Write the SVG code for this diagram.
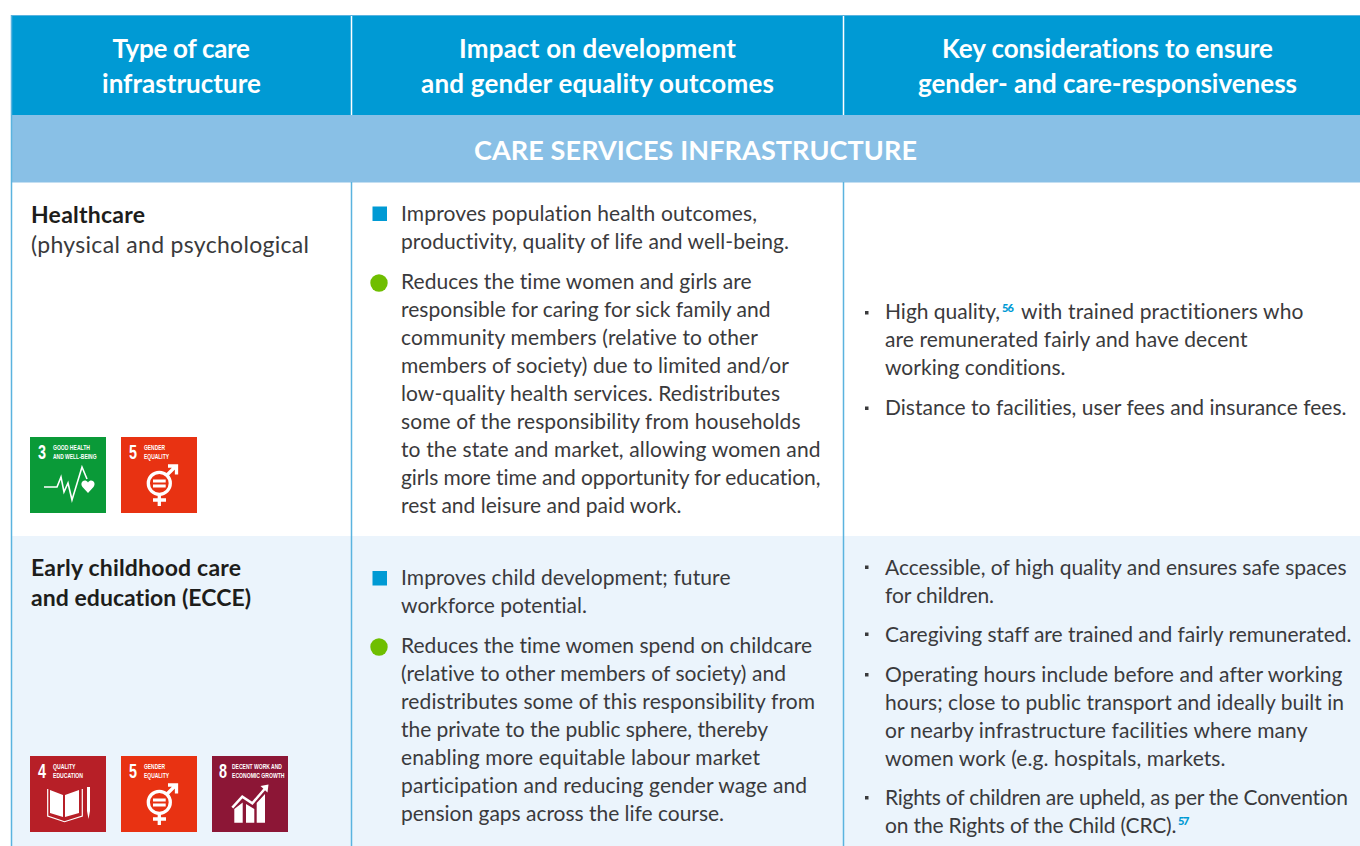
<svg xmlns="http://www.w3.org/2000/svg" width="1360" height="846" viewBox="0 0 1360 846">
<style>
text{font-family:"Lato","Noto Sans",sans-serif;font-variant-ligatures:none}
.h{font-size:26px;font-weight:700;fill:#fff}
.c{font-size:27px}
.b{font-size:21px;fill:#3a3a3c}
.a{font-size:23px;fill:#3a3a3c}
.t{font-size:23px;font-weight:700;fill:#1d1d1b}
.s{font-size:11px;font-weight:900;fill:#009ad4}
.l{stroke:#5ab3df;stroke-width:1.5;fill:none}
.w{stroke:#fff;stroke-width:1.5}
.sq{fill:#009ad4}.ci{fill:#6fbe00}.d{fill:#3a3a3c}
.g1{font-family:"Liberation Sans",sans-serif;font-weight:700;fill:#fff;font-size:8px}
.gn{font-family:"Liberation Sans",sans-serif;font-weight:700;fill:#fff;font-size:21px}
</style>
<defs>
<g id="sdg5"><rect width="76" height="76" fill="#e83212"/><text class="gn" x="8" y="22" textLength="8" lengthAdjust="spacingAndGlyphs">5</text><text class="g1" x="23" y="13" textLength="21" lengthAdjust="spacingAndGlyphs">GENDER</text><text class="g1" x="23" y="22" textLength="25" lengthAdjust="spacingAndGlyphs">EQUALITY</text>
<g fill="none" stroke="#fff" stroke-width="3.3"><circle cx="38.300" cy="46.300" r="11"/><path d="M38.300 58V69M32 63H45M46 38L55 29M47 29H55.500V37.500"/></g><path d="M32 42.500h12.700v3H32zM32 47.500h12.700v3H32z" fill="#fff"/></g>
</defs>
<rect width="1360" height="846" fill="#fff"/>
<g id="header"><rect x="11" y="15" width="1349" height="100" fill="#009ad4"/><path d="M11 15.500H1360" stroke="#5ab3df"/>
<path class="w" d="M351.500 16V115M843.500 16V115"/>
<text class="h" x="112.500" y="58" textLength="137.500">Type of care</text><text class="h" x="102" y="93" textLength="159">infrastructure</text>
<text class="h" x="459" y="58" textLength="277">Impact on development</text><text class="h" x="421" y="93" textLength="353">and gender equality outcomes</text>
<text class="h" x="942" y="58" textLength="331">Key considerations to ensure</text><text class="h" x="918" y="93" textLength="379">gender- and care-responsiveness</text></g>
<g id="band"><rect x="11" y="115" width="1349" height="67.500" fill="#89c0e6"/><text class="h c" x="474" y="160" textLength="443">CARE SERVICES INFRASTRUCTURE</text></g>
<g id="row2bg"><rect x="11" y="536" width="1349" height="310" fill="#ebf4fc"/></g>
<g id="connectors"><path class="l" d="M11.500 15V846M351.500 182V846M843.500 182V846"/></g>
<g id="healthcare">
<text class="t" x="31" y="223" textLength="114">Healthcare</text><text class="a" x="31" y="253" textLength="278">(physical and psychological</text>
<g transform="translate(30 437)"><rect width="76" height="76" fill="#0a9a38"/><text class="gn" x="8" y="22" textLength="8" lengthAdjust="spacingAndGlyphs">3</text><text class="g1" x="23" y="13" textLength="37" lengthAdjust="spacingAndGlyphs">GOOD HEALTH</text><text class="g1" x="23" y="22" textLength="43.500" lengthAdjust="spacingAndGlyphs">AND WELL-BEING</text><path d="M14 50H27L31 40L34 55L38 46L42 63L52 30L57 42" fill="none" stroke="#fff" stroke-width="1.6"/><path d="M58 56L52.500 50C49 45 55 41 58 45.500C61 41 67 45 63.500 50Z" fill="#fff"/></g>
<use href="#sdg5" x="121" y="437"/>
<rect class="sq" x="372.500" y="206.500" width="14.500" height="14.500"/>
<text class="b" x="401" y="221" textLength="356">Improves population health outcomes,</text><text class="b" x="401" y="249" textLength="388">productivity, quality of life and well-being.</text>
<circle class="ci" cx="379" cy="283" r="8.700"/>
<text class="b" x="401" y="289" textLength="350.500">Reduces the time women and girls are</text><text class="b" x="401" y="317" textLength="369.500">responsible for caring for sick family and</text><text class="b" x="401" y="345" textLength="357">community members (relative to other</text><text class="b" x="401" y="373" textLength="388">members of society) due to limited and/or</text><text class="b" x="401" y="401" textLength="379">low-quality health services. Redistributes</text><text class="b" x="401" y="429" textLength="399.500">some of the responsibility from households</text><text class="b" x="401" y="457" textLength="419.500">to the state and market, allowing women and</text><text class="b" x="401" y="485" textLength="419.500">girls more time and opportunity for education,</text><text class="b" x="401" y="513" textLength="280.500">rest and leisure and paid work.</text>
<rect class="d" x="865" y="311" width="3.500" height="3.500"/>
<text class="b" x="885" y="319" textLength="115">High quality,</text><text class="s" x="1002" y="312" textLength="12">56</text><text class="b" x="1021" y="319" textLength="282.500">with trained practitioners who</text><text class="b" x="885" y="347" textLength="362.500">are remunerated fairly and have decent</text><text class="b" x="885" y="375" textLength="180.500">working conditions.</text>
<rect class="d" x="865" y="406.500" width="3.500" height="3.500"/>
<text class="b" x="885" y="415" textLength="461.500">Distance to facilities, user fees and insurance fees.</text>
</g>
<g id="ecce">
<text class="t" x="31" y="576" textLength="210">Early childhood care</text><text class="t" x="31" y="606" textLength="220">and education (ECCE)</text>
<g transform="translate(30 756)"><rect width="76" height="76" fill="#b71f27"/><text class="gn" x="8" y="22" textLength="8" lengthAdjust="spacingAndGlyphs">4</text><text class="g1" x="23" y="13" textLength="22.500" lengthAdjust="spacingAndGlyphs">QUALITY</text><text class="g1" x="23" y="22" textLength="30" lengthAdjust="spacingAndGlyphs">EDUCATION</text><path d="M20 34L33 39V61L20 57ZM35 39L49 34V57L35 61Z" fill="#fff"/><path d="M17.700 33V60L34.500 65.700L52.300 60V33" fill="none" stroke="#fff" stroke-width="1.200"/><path d="M57 31h3v24l-1.500 8l-1.500-8z" fill="#fff"/></g>
<use href="#sdg5" x="121" y="756"/>
<g transform="translate(212 756)"><rect width="76" height="76" fill="#8c1636"/><text class="gn" x="7" y="22" textLength="8" lengthAdjust="spacingAndGlyphs">8</text><text class="g1" x="20" y="13" textLength="50" lengthAdjust="spacingAndGlyphs">DECENT WORK AND</text><text class="g1" x="20" y="22" textLength="52.500" lengthAdjust="spacingAndGlyphs">ECONOMIC GROWTH</text><path d="M22.300 66.700V53L30.700 46.500V66.700ZM34 66.700V48L42.300 53V66.700ZM44.700 66.700V47L53 38V66.700Z" fill="#fff"/><path d="M20.300 51.700L30.300 40.700L40.300 47.300L53 32.500" fill="none" stroke="#fff" stroke-width="2.500"/><path d="M48.500 30L56.500 28.500L55.500 36.500Z" fill="#fff"/></g>
<rect class="sq" x="372.500" y="571" width="14.500" height="14.500"/>
<text class="b" x="401" y="585" textLength="329.500">Improves child development; future</text><text class="b" x="401" y="613" textLength="186">workforce potential.</text>
<circle class="ci" cx="379" cy="647" r="8.700"/>
<text class="b" x="401" y="653" textLength="411">Reduces the time women spend on childcare</text><text class="b" x="401" y="681" textLength="385">(relative to other members of society) and</text><text class="b" x="401" y="709" textLength="414">redistributes some of this responsibility from</text><text class="b" x="401" y="737" textLength="367">the private to the public sphere, thereby</text><text class="b" x="401" y="765" textLength="359">enabling more equitable labour market</text><text class="b" x="401" y="793" textLength="406">participation and reducing gender wage and</text><text class="b" x="401" y="821" textLength="323">pension gaps across the life course.</text>
<rect class="d" x="865" y="565.500" width="3.500" height="3.500"/>
<text class="b" x="885" y="574.500" textLength="461.500">Accessible, of high quality and ensures safe spaces</text><text class="b" x="885" y="602.500" textLength="109">for children.</text>
<rect class="d" x="865" y="632.500" width="3.500" height="3.500"/>
<text class="b" x="885" y="641.500" textLength="466.500">Caregiving staff are trained and fairly remunerated.</text>
<rect class="d" x="865" y="673" width="3.500" height="3.500"/>
<text class="b" x="885" y="681.500" textLength="457.500">Operating hours include before and after working</text><text class="b" x="885" y="709.500" textLength="459">hours; close to public transport and ideally built in</text><text class="b" x="885" y="737.500" textLength="422.500">or nearby infrastructure facilities where many</text><text class="b" x="885" y="765.500" textLength="340.500">women work (e.g. hospitals, markets.</text>
<rect class="d" x="865" y="796" width="3.500" height="3.500"/>
<text class="b" x="885" y="804.500" textLength="463">Rights of children are upheld, as per the Convention</text><text class="b" x="885" y="832.500" textLength="291.500">on the Rights of the Child (CRC).</text><text class="s" x="1178" y="825" textLength="11.500">57</text>
</g>
</svg>
